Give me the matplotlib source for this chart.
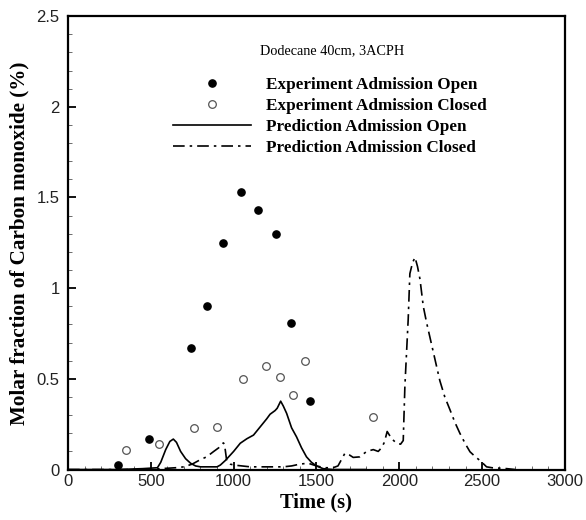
import numpy as np
import matplotlib
matplotlib.use("Agg")
import matplotlib.pyplot as plt
from matplotlib.ticker import MultipleLocator

# --- data ---
t_exp_open = [300, 490, 740, 840, 937, 1044, 1149, 1254, 1348, 1461]
co_exp_open = [0.025, 0.17, 0.67, 0.90, 1.25, 1.53, 1.43, 1.30, 0.81, 0.38]

t_exp_closed = [350, 549, 760, 897, 1058, 1193, 1280, 1360, 1432, 1843]
co_exp_closed = [0.11, 0.14, 0.23, 0.235, 0.50, 0.57, 0.51, 0.41, 0.60, 0.29]

t_pred_open = [0, 300, 450, 540, 560, 590, 615, 636, 655, 680, 710, 740, 770,
               800, 850, 900, 920, 950, 980, 1000, 1040, 1080, 1120, 1160,
               1200, 1220, 1250, 1263, 1284, 1300, 1320, 1350, 1380, 1410,
               1440, 1470, 1500, 1540, 1600, 1800]
co_pred_open = [0, 0, 0.005, 0.01, 0.04, 0.11, 0.155, 0.168, 0.15, 0.10, 0.06,
                0.035, 0.02, 0.015, 0.015, 0.015, 0.025, 0.05, 0.08, 0.10,
                0.145, 0.17, 0.19, 0.235, 0.28, 0.305, 0.325, 0.338, 0.377,
                0.35, 0.31, 0.23, 0.18, 0.12, 0.07, 0.04, 0.02, 0.005, 0, 0]

t_pred_closed = [0, 500, 560, 650, 700, 750, 800, 837, 880, 910, 938, 945,
                 958, 980, 1000, 1050, 1100, 1200, 1300, 1350, 1400, 1450,
                 1500, 1550, 1600, 1630, 1672, 1700, 1722, 1762, 1803, 1843,
                 1873, 1893, 1910, 1927, 1954, 1984, 2008, 2024, 2034, 2054,
                 2064, 2080, 2095, 2110, 2125, 2145, 2165, 2185, 2215, 2245,
                 2275, 2306, 2336, 2366, 2400, 2427, 2460, 2487, 2510, 2527,
                 2560, 2600, 2650, 2700]
co_pred_closed = [0, 0, 0.005, 0.01, 0.015, 0.03, 0.055, 0.07, 0.10, 0.12,
                  0.147, 0.14, 0.05, 0.03, 0.025, 0.02, 0.015, 0.015, 0.015,
                  0.02, 0.03, 0.035, 0.02, 0.01, 0.01, 0.02, 0.09, 0.08,
                  0.067, 0.07, 0.10, 0.11, 0.10, 0.12, 0.15, 0.21, 0.17,
                  0.145, 0.14, 0.16, 0.46, 0.83, 1.08, 1.14, 1.17, 1.12,
                  1.05, 0.90, 0.81, 0.73, 0.61, 0.49, 0.40, 0.33, 0.26, 0.20,
                  0.14, 0.098, 0.07, 0.05, 0.03, 0.015, 0.01, 0.008, 0.005, 0]

serif = "Liberation Serif"
sans = "Liberation Sans"

fig = plt.figure(figsize=(5.86, 5.2), dpi=100)
ax = fig.add_axes([0.116, 0.097, 0.848, 0.872])

ax.plot(t_pred_open, co_pred_open, color="black", lw=1.2,
        label="Prediction Admission Open")
ax.plot(t_pred_closed, co_pred_closed, color="black", lw=1.2,
        dashes=(7, 3, 1.5, 3), label="Prediction Admission Closed")
ax.plot(t_exp_open, co_exp_open, "o", color="black", ms=5.2,
        label="Experiment Admission Open")
ax.plot(t_exp_closed, co_exp_closed, "o", mfc="white", mec="#555555",
        mew=0.9, ms=5.5, label="Experiment Admission Closed")

ax.set_xlim(0, 3000)
ax.set_ylim(0, 2.5)
ax.xaxis.set_major_locator(MultipleLocator(500))
ax.xaxis.set_minor_locator(MultipleLocator(100))
ax.yaxis.set_minor_locator(MultipleLocator(0.1))
ax.set_yticks([0, 0.5, 1, 1.5, 2, 2.5])
ax.set_yticklabels(["0", "0.5", "1", "1.5", "2", "2.5"])

ax.tick_params(which="both", direction="in", top=False, right=False)
ax.tick_params(which="major", length=6, width=1.3)
ax.tick_params(which="minor", length=3, width=0.6, color="#555555")
ax.tick_params(axis="x", which="major", pad=3)
ax.tick_params(axis="y", which="major", pad=6)
for lab in ax.get_xticklabels() + ax.get_yticklabels():
    lab.set_fontfamily(sans)
    lab.set_fontsize(12)
    lab.set_color("#222222")
for sp in ax.spines.values():
    sp.set_linewidth(1.6)

ax.set_xlabel("Time (s)", fontfamily=serif, fontweight="bold", fontsize=14.8,
              labelpad=3)
ax.set_ylabel("Molar fraction of Carbon monoxide (%)", fontfamily=serif,
              fontweight="bold", fontsize=15.2, labelpad=5)

handles, labels = ax.get_legend_handles_labels()
order = [2, 3, 0, 1]
ax.legend([handles[i] for i in order], [labels[i] for i in order],
          loc="upper left", bbox_to_anchor=(0.211, 0.866), frameon=False,
          borderpad=0, borderaxespad=0, handlelength=4.6, handletextpad=0.88,
          labelspacing=0.3,
          prop={"family": serif, "weight": "bold", "size": 12.3})
ax.text(0.386, 0.923, "Dodecane 40cm, 3ACPH", transform=ax.transAxes,
        fontfamily=serif, fontsize=10.3, va="center", ha="left")

fig.savefig("out.png", dpi=100)
